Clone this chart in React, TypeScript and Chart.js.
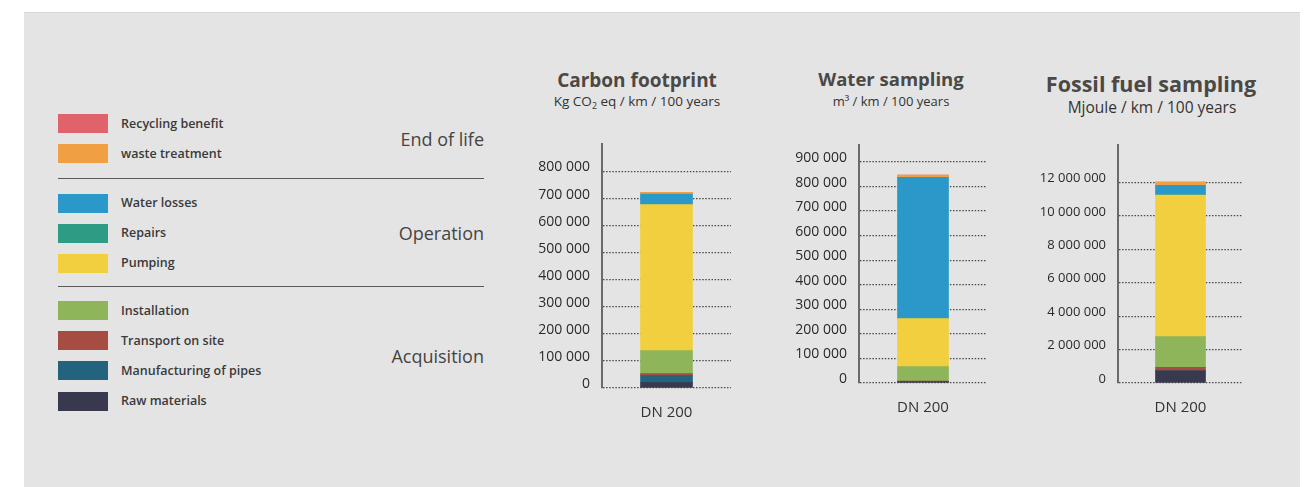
import React, { useEffect, useRef } from "react";
import { Chart, registerables } from "chart.js";

Chart.register(...registerables);
Chart.defaults.font.family = "'Open Sans', sans-serif";

// ---------- data ----------
const categories = ["DN 200"];

const seriesNames = [
  "Recycling benefit",
  "waste treatment",
  "Water losses",
  "Repairs",
  "Pumping",
  "Installation",
  "Transport on site",
  "Manufacturing of pipes",
  "Raw materials",
];

const seriesColors = [
  "#e0636b",
  "#f0a042",
  "#2a98c8",
  "#2e9b84",
  "#f2cf3f",
  "#8fb55a",
  "#a64c41",
  "#23637d",
  "#38384f",
];

const groupNames = ["End of life", "Operation", "Acquisition"];
const groupSizes = [2, 3, 4];

// values in legend order (top of legend first)
const carbonValues = [0, 7000, 38000, 0, 540000, 85000, 7000, 26000, 20000];
const waterValues = [0, 9000, 575000, 0, 196000, 58500, 1000, 2000, 5000];
const fossilValues = [0, 200000, 575000, 0, 8480000, 1840000, 212000, 0, 723000];

const carbonTicks = [0, 100000, 200000, 300000, 400000, 500000, 600000, 700000, 800000];
const waterTicks = [0, 100000, 200000, 300000, 400000, 500000, 600000, 700000, 800000, 900000];
const fossilTicks = [0, 2000000, 4000000, 6000000, 8000000, 10000000, 12000000];

const carbonMax = 900000;
const waterMax = 967500;
const fossilMax = 14260000;

const carbonTitle = "Carbon footprint";
const waterTitle = "Water sampling";
const fossilTitle = "Fossil fuel sampling";

// ---------- helpers ----------
const fmt = (v: number) => String(v).replace(/\B(?=(\d{3})+(?!\d))/g, " ");

type Geo = {
  left: number;
  top: number;
  width: number;
  height: number;
  yWidth: number;
  bar: number;
  tickSize: number;
};

function StackChart(props: { values: number[]; ticks: number[]; max: number; geo: Geo }) {
  const ref = useRef<HTMLCanvasElement | null>(null);
  const { values, ticks, max, geo } = props;
  useEffect(() => {
    if (!ref.current) return;
    const datasets = seriesNames
      .map((name, i) => ({
        label: name,
        data: [values[i]],
        backgroundColor: seriesColors[i],
        borderWidth: 0,
        barThickness: geo.bar,
      }))
      .reverse();
    const chart = new Chart(ref.current, {
      type: "bar",
      data: { labels: categories, datasets },
      options: {
        animation: false,
        responsive: false,
        events: [],
        layout: { padding: { top: 10, left: 0, right: 0, bottom: 0 } },
        plugins: {
          legend: { display: false },
          tooltip: { enabled: false },
          title: { display: false },
        },
        scales: {
          x: {
            stacked: true,
            grid: { display: false },
            border: { display: false },
            ticks: { color: "#333333", font: { size: 15 }, padding: 8 },
            afterFit: (s: any) => {
              s.height = 35;
            },
          },
          y: {
            stacked: true,
            min: 0,
            max,
            afterBuildTicks: (s: any) => {
              s.ticks = ticks.map((v) => ({ value: v }));
            },
            afterFit: (s: any) => {
              s.width = geo.yWidth;
            },
            grid: { color: "#4a4a4a", lineWidth: 1.3, drawTicks: false },
            border: { display: true, color: "#6a6a6a", width: 2, dash: [1.5, 1.6] },
            ticks: {
              color: "#2a2a2a",
              padding: 12,
              labelOffset: -4,
              font: { size: geo.tickSize },
              callback: (v: any) => fmt(Number(v)),
            },
          },
        },
      } as any,
    });
    return () => chart.destroy();
  }, []);
  return (
    <canvas
      ref={ref}
      width={geo.width}
      height={geo.height}
      style={{ position: "absolute", left: geo.left, top: geo.top, width: geo.width, height: geo.height }}
    />
  );
}

function Title(props: { cx: number; top: number; size: number; sub?: boolean; children: any }) {
  return (
    <div
      style={{
        position: "absolute",
        left: props.cx - 160,
        width: 320,
        top: props.top,
        textAlign: "center",
        fontSize: props.size,
        lineHeight: `${props.size}px`,
        fontWeight: props.sub ? 400 : 700,
        color: props.sub ? "#333333" : "#4a4946",
        whiteSpace: "nowrap",
      }}
    >
      {props.children}
    </div>
  );
}

const groupStarts = [123.5, 203, 310.5];
const rowGap = 30.2;

function Legend() {
  const items: any[] = [];
  let idx = 0;
  groupNames.forEach((g, gi) => {
    const n = groupSizes[gi];
    for (let r = 0; r < n; r++) {
      const i = idx + r;
      const cy = groupStarts[gi] + r * rowGap;
      items.push(
        <div key={"b" + i} style={{ position: "absolute", left: 58, top: cy - 9.5, width: 50, height: 19, background: seriesColors[i] }} />
      );
      items.push(
        <div
          key={"t" + i}
          style={{
            position: "absolute",
            left: 121,
            top: cy - 10,
            height: 20,
            lineHeight: "20px",
            fontSize: 12.5,
            fontWeight: 600,
            color: "#3a3a3a",
            whiteSpace: "nowrap",
          }}
        >
          {seriesNames[i]}
        </div>
      );
    }
    const gc = groupStarts[gi] + ((n - 1) * rowGap) / 2;
    items.push(
      <div
        key={"g" + gi}
        style={{
          position: "absolute",
          right: 1311 - 484,
          top: gc - 12,
          height: 24,
          lineHeight: "24px",
          fontSize: 18,
          color: "#444444",
          whiteSpace: "nowrap",
        }}
      >
        {g}
      </div>
    );
    idx += n;
  });
  [178.3, 286.7].forEach((y, k) => {
    items.push(
      <div key={"d" + k} style={{ position: "absolute", left: 58, top: y - 0.75, width: 426, height: 1.5, background: "#5a5a5a" }} />
    );
  });
  return <>{items}</>;
}

export default function App() {
  return (
    <div
      style={{
        position: "absolute",
        left: 0,
        top: 0,
        width: 1311,
        height: 487,
        background: "#ffffff",
        overflow: "hidden",
        fontFamily: "'Open Sans', sans-serif",
      }}
    >
      <div
        style={{
          position: "absolute",
          left: 24,
          top: 12,
          width: 1276,
          height: 475,
          background: "#e4e4e4",
          borderTop: "1px solid #d2d8d2",
        }}
      />
      <Legend />

      <Title cx={637} top={71.4} size={19}>{carbonTitle}</Title>
      <Title cx={637} top={95.3} size={13.5} sub>
        Kg CO<sub style={{ fontSize: "0.65em", verticalAlign: "-0.3em", lineHeight: 0 }}>2</sub> eq / km / 100 years
      </Title>

      <Title cx={891} top={70.3} size={18.5}>{waterTitle}</Title>
      <Title cx={891} top={95.2} size={13} sub>m³ / km / 100 years</Title>

      <Title cx={1151} top={72.6} size={21.5}>{fossilTitle}</Title>
      <Title cx={1152} top={99.5} size={15.5} sub>Mjoule / km / 100 years</Title>

      <StackChart
        values={carbonValues}
        ticks={carbonTicks}
        max={carbonMax}
        geo={{ left: 530, top: 124, width: 201, height: 299, yWidth: 72, bar: 52, tickSize: 14 }}
      />
      <StackChart
        values={waterValues}
        ticks={waterTicks}
        max={waterMax}
        geo={{ left: 790, top: 125, width: 197, height: 293, yWidth: 69, bar: 51, tickSize: 14 }}
      />
      <StackChart
        values={fossilValues}
        ticks={fossilTicks}
        max={fossilMax}
        geo={{ left: 1030, top: 125, width: 213, height: 293, yWidth: 88, bar: 50, tickSize: 13 }}
      />
    </div>
  );
}
